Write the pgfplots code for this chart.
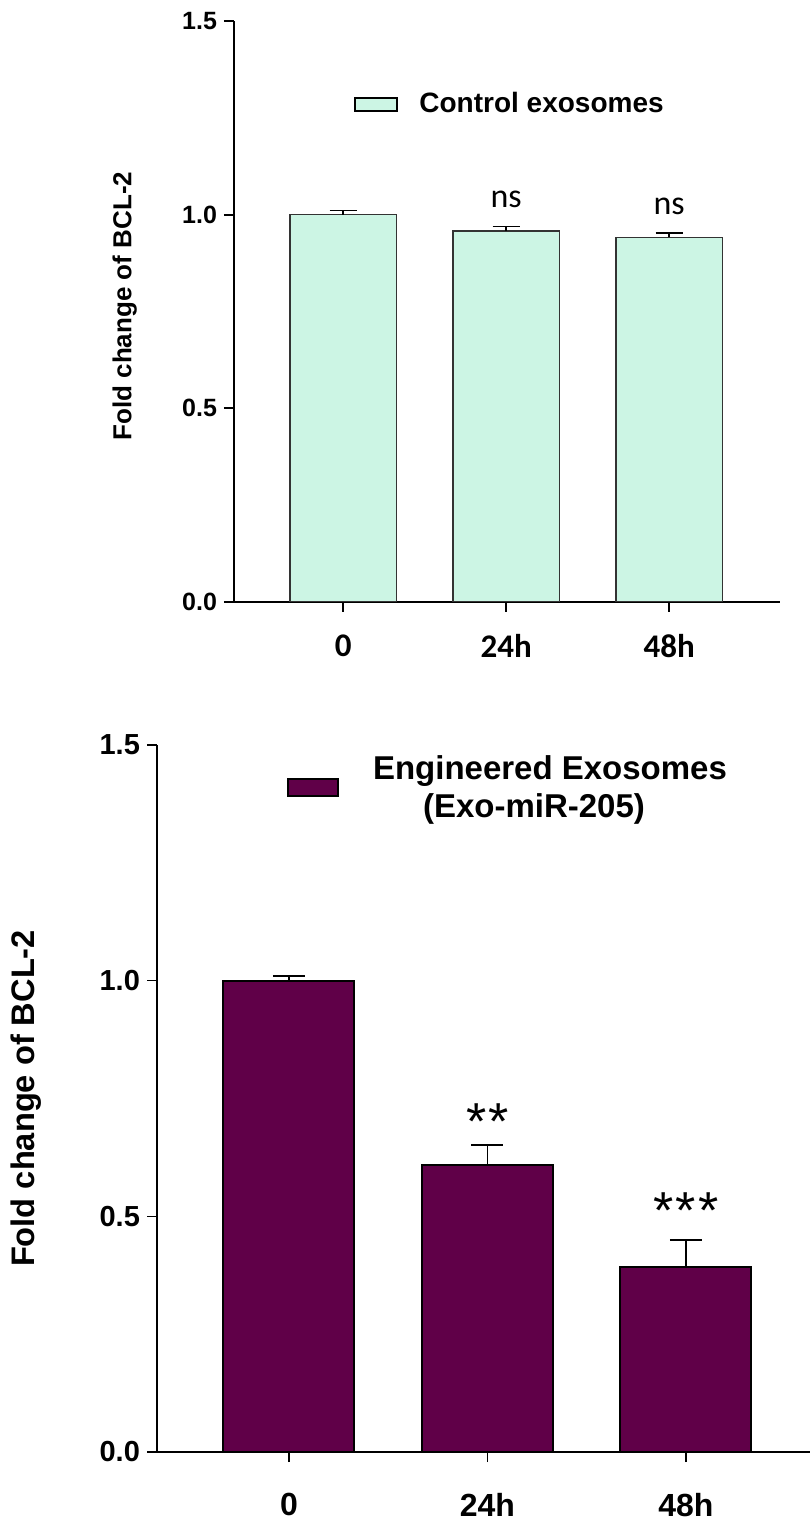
\documentclass[border=0pt]{standalone}
\usepackage{pgfplots}
\pgfplotsset{compat=1.18}
\usepackage{fontspec}
\setmainfont{Liberation Sans}
\newfontfamily\calib{Carlito}
\definecolor{mint}{RGB}{204,245,228}
\definecolor{plum}{RGB}{96,0,72}
\begin{document}
\begin{tikzpicture}
\useasboundingbox (0,0) rectangle (405.5pt,761.5pt);
% ---------- top panel ----------
\begin{axis}[
  at={(117pt,460.65pt)}, anchor=south west,
  scale only axis, width=273pt, height=290.35pt,
  xmin=-0.67, xmax=2.68, ymin=0, ymax=1.5,
  axis x line=bottom, axis y line=left,
  axis line style={-, line width=1pt, black},
  ybar, bar width=0.656,
  xtick={0,1,2}, xticklabels={0,24h,48h},
  ytick={0,0.5,1,1.5},
  tick align=outside, major tick length=5pt,
  tick style={line width=1pt, black},
  yticklabel style={font=\fontsize{12.5}{13}\selectfont\bfseries,
    /pgf/number format/.cd, fixed, fixed zerofill, precision=1, assume math mode=true},
  xticklabel style={font=\calib\fontsize{16.5}{18}\selectfont\bfseries, yshift=-8pt},
  ylabel={Fold change of BCL-2},
  ylabel style={at={(axis description cs:-0.2,0.509)}, anchor=center,
    font=\fontsize{13}{15}\selectfont\bfseries},
  clip=false,
]
\addplot[fill=mint, draw=black!80, line width=0.8pt,
  error bars/.cd, y dir=plus, y explicit,
  error bar style={line width=0.8pt, black},
  error mark options={rotate=90, mark size=6.75pt, line width=0.8pt, black}]
  coordinates {(0,1.000) +- (0,0.010) (1,0.958) +- (0,0.011) (2,0.941) +- (0,0.011)};
\node[anchor=base, inner sep=0pt, font=\calib\fontsize{17}{18}\selectfont] at (axis cs:1,1.017) {ns};
\node[anchor=base, inner sep=0pt, font=\calib\fontsize{17}{18}\selectfont] at (axis cs:2,0.999) {ns};
\end{axis}
% top legend
\draw[fill=mint, draw=black, line width=0.9pt] (177.5pt,706pt) rectangle (198.5pt,712.5pt);
\node[anchor=base west, inner sep=0pt, font=\fontsize{14}{16}\selectfont\bfseries] at (209.5pt,705pt) {Control exosomes};
% ---------- bottom panel ----------
\begin{axis}[
  at={(78.5pt,35.5pt)}, anchor=south west,
  scale only axis, width=326.5pt, height=353.5pt,
  xmin=-0.665, xmax=2.625, ymin=0, ymax=1.5,
  axis x line=bottom, axis y line=left,
  axis line style={-, line width=0.8pt, black},
  ybar, bar width=0.66,
  xtick={0,1,2}, xticklabels={0,24h,48h},
  ytick={0,0.5,1,1.5},
  tick align=outside, major tick length=5pt,
  tick style={line width=0.8pt, black},
  yticklabel style={font=\fontsize{14.5}{16}\selectfont\bfseries,
    /pgf/number format/.cd, fixed, fixed zerofill, precision=1, assume math mode=true},
  xticklabel style={font=\fontsize{16}{18}\selectfont\bfseries, yshift=-12pt},
  ylabel={Fold change of BCL-2},
  ylabel style={at={(axis description cs:-0.2006,0.5)}, anchor=center,
    font=\fontsize{16.3}{18}\selectfont\bfseries},
  clip=false,
]
\addplot[fill=plum, draw=black, line width=1pt,
  error bars/.cd, y dir=plus, y explicit,
  error bar style={line width=0.9pt, black},
  error mark options={rotate=90, mark size=8pt, line width=0.9pt, black}]
  coordinates {(0,1.000) +- (0,0.010) (1,0.608) +- (0,0.043) (2,0.393) +- (0,0.057)};
\node[anchor=base, inner sep=0pt, font=\fontsize{26}{28}\selectfont] at (axis cs:1,0.662) {*\kern1pt*};
\node[anchor=base, inner sep=0pt, font=\fontsize{26}{28}\selectfont] at (axis cs:2,0.474) {*\kern1pt*\kern1pt*};
\end{axis}
% bottom legend
\draw[fill=plum, draw=black, line width=1pt] (144pt,363.5pt) rectangle (169pt,372pt);
\node[anchor=base, inner sep=0pt, font=\fontsize{16.5}{18}\selectfont\bfseries] at (275pt,371.5pt) {Engineered Exosomes};
\node[anchor=base, inner sep=0pt, font=\fontsize{16.5}{18}\selectfont\bfseries] at (267pt,352.5pt) {(Exo-miR-205)};
\end{tikzpicture}
\end{document}
